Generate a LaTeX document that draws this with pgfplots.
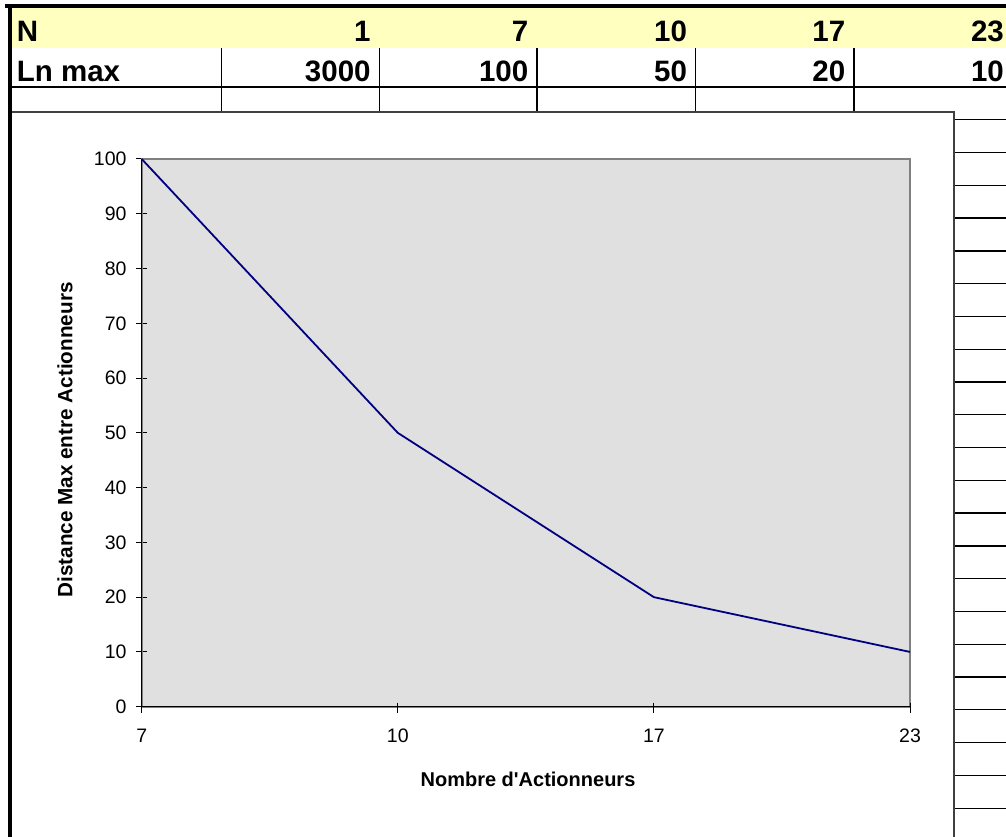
\documentclass[border=0pt]{standalone}
\usepackage{pgfplots}
\pgfplotsset{compat=1.18}
\usepackage{fontspec}
\setmainfont{Liberation Sans}[Ligatures=TeXOff]
\definecolor{celljaune}{RGB}{255,255,192}
\definecolor{fondtrace}{RGB}{224,224,224}
\definecolor{bleunuit}{RGB}{0,0,128}
\definecolor{cadre}{RGB}{64,64,64}
\definecolor{bordgris}{RGB}{128,128,128}

\newcommand{\celltxt}{\fontsize{29.5}{30}\selectfont\bfseries}
\newcommand{\ticktxt}{\fontsize{19.5}{19.5}\selectfont}

\begin{document}
\begin{tikzpicture}[x=1pt,y=1pt]
\path[use as bounding box] (0,0) rectangle (1006,836);
\clip (0,0) rectangle (1006,836);

% header row of the sheet
\fill[celljaune] (11,788) rectangle (1006,828);

% cell grid
\draw[line width=1.3pt] (11,749) -- (1006,749);
\foreach \xx in {221.7,379.3,537,695.7,854}
  \draw[line width=1.1pt] (\xx,788) -- (\xx,724);
\foreach \k in {1,...,23}
  \draw[line width=1.3pt] (954,{749-\k*32.78}) -- (1006,{749-\k*32.78});

% chart frame
\filldraw[fill=white, draw=cadre, line width=1.8pt] (10,724) rectangle (954,-20);

% thick outer border
\draw[line width=4.3pt] (5,829.8) -- (1006,829.8);
\draw[line width=4.3pt] (9.7,832) -- (9.7,-5);

% cell contents
\node[anchor=base west, inner sep=0pt, font=\celltxt] at (16.7,794.3) {N};
\node[anchor=base west, inner sep=0pt, font=\celltxt] at (16.7,754.3) {Ln max};
\foreach \xr/\n/\l in {370.8/1/3000, 528.5/7/100, 687.2/10/50, 845.5/17/20, 1004/23/10}{
  \node[anchor=base east, inner sep=0pt, font=\celltxt] at (\xr,794.3) {\n};
  \node[anchor=base east, inner sep=0pt, font=\celltxt] at (\xr,754.3) {\l};
}

\begin{axis}[
  at={(141.7pt,129.3pt)}, anchor=south west,
  scale only axis, width=768.3pt, height=547.7pt,
  xmin=0, xmax=3, ymin=0, ymax=100,
  xtick={0,1,2,3}, xticklabels={7,10,17,23},
  ytick={0,10,...,100},
  xtick pos=bottom, ytick pos=left,
  axis background/.style={fill=fondtrace},
  axis line style={draw=bordgris, line width=1.6pt},
  tick align=center, major tick length=11pt,
  tick style={black, line width=1pt},
  major x tick style={draw=none},
  /pgf/number format/assume math mode=true,
  every tick label/.append style={font=\ticktxt},
  yticklabel style={font=\ticktxt, anchor=east, inner sep=0pt, xshift=-9.5pt},
  xticklabel style={font=\ticktxt, anchor=base, inner sep=0pt, yshift=-30.5pt},
  clip=false,
]
\addplot[color=bleunuit, line width=1.8pt] coordinates {(0,100) (1,50) (2,20) (3,10)};
\draw[black, line width=1.2pt] (rel axis cs:0,1) -- (rel axis cs:0,0) -- (rel axis cs:1,0);
\pgfplotsinvokeforeach{0,1,2,3}{
  \draw[black, line width=1pt] ([yshift=4pt]axis cs:#1,0) -- ([yshift=-6pt]axis cs:#1,0);
}
\end{axis}

% axis titles
\node[rotate=90, inner sep=0pt, font=\fontsize{20.7}{20.7}\selectfont\bfseries] at (65,396) {Distance Max entre Actionneurs};
\node[anchor=base, inner sep=0pt, font=\fontsize{20}{20}\selectfont\bfseries] at (528,50) {Nombre d'Actionneurs};
\end{tikzpicture}
\end{document}
